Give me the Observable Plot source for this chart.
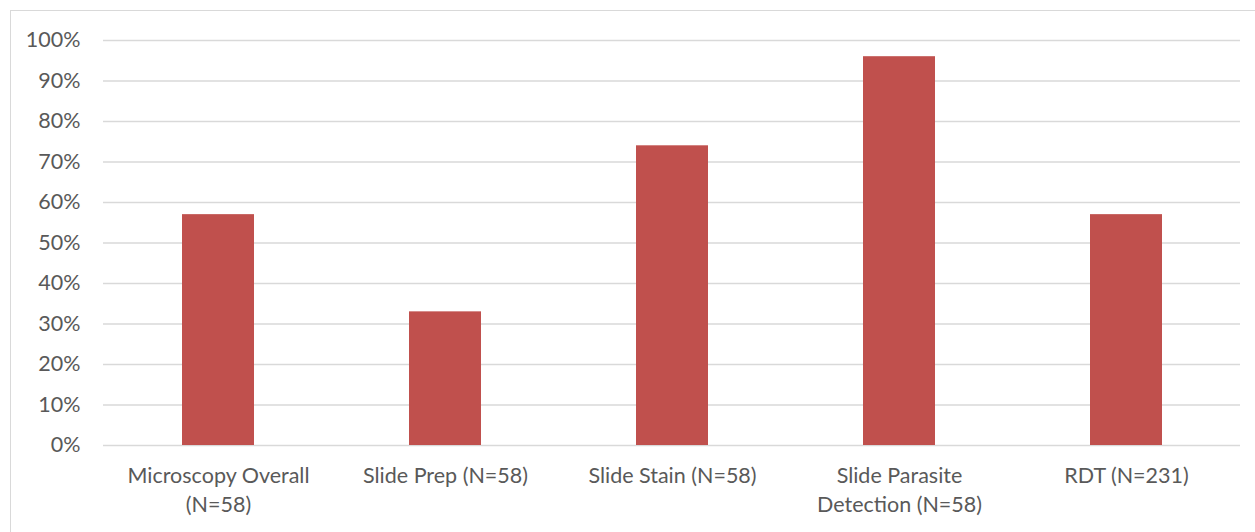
<!DOCTYPE html>
<html>
<head>
<meta charset="utf-8">
<script src="https://cdn.jsdelivr.net/npm/d3@7"></script>
<script src="https://cdn.jsdelivr.net/npm/@observablehq/plot@0.6"></script>
<style>
  html, body { margin: 0; padding: 0; background: #fff; }
  #chart { position: relative; width: 1255px; height: 532px; overflow: hidden; }
  #chart-border {
    position: absolute; left: 10px; top: 10px; width: 1400px; height: 700px;
    border-top: 1.5px solid #d9d9d9; border-left: 1.5px solid #d9d9d9;
  }
  #chart svg { position: absolute; left: 0; top: 0; }
</style>
</head>
<body>
<div id="chart"><div id="chart-border"></div></div>
<script>
// Share of assessments passed, by component
const categories = [
  "Microscopy Overall\n(N=58)",
  "Slide Prep (N=58)",
  "Slide Stain (N=58)",
  "Slide Parasite\nDetection (N=58)",
  "RDT (N=231)"
];
const shares = [0.57, 0.33, 0.74, 0.96, 0.57];
const yTicks = [0, 0.1, 0.2, 0.3, 0.4, 0.5, 0.6, 0.7, 0.8, 0.9, 1.0];

const rows = categories.map((c, i) => ({category: c, share: shares[i]}));

const textColor = "#595959";
const gridColor = "#d9d9d9";
const barColor = "#c0504d";
const fontSize = 21.5;

const chart = Plot.plot({
  width: 1255,
  height: 532,
  marginLeft: 103,
  marginRight: 15,
  marginTop: 40,
  marginBottom: 87,
  style: {fontFamily: "Lato, 'Open Sans', sans-serif", fontSize: `${fontSize}px`, color: textColor, background: "transparent"},
  x: {domain: categories, paddingInner: 0.683, paddingOuter: 0.3415, label: null},
  y: {domain: [0, 1], label: null},
  marks: [
    Plot.ruleY(yTicks, {stroke: gridColor, strokeWidth: 1.5}),
    Plot.barY(rows, {x: "category", y: "share", fill: barColor}),
    Plot.axisY(yTicks, {
      tickSize: 0, tickPadding: 23, tickFormat: d3.format(".0%"),
      fill: textColor, fontSize, label: null
    }),
    Plot.axisX({
      tickSize: 0, tickPadding: 17, lineHeight: 1.35,
      fill: textColor, fontSize, label: null
    })
  ]
});

document.getElementById("chart").appendChild(chart);
</script>
</body>
</html>
